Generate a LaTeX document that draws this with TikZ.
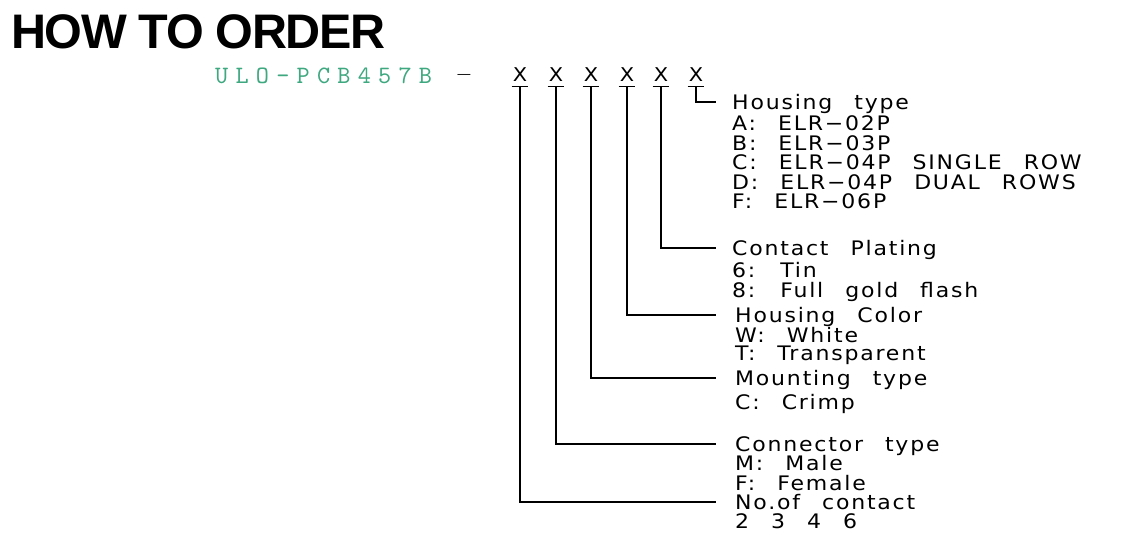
\documentclass[tikz,border=0pt]{standalone}
\usepackage{fontspec}
\usepackage{tikz}
\usetikzlibrary{positioning, calc}
\newfontfamily\titlefont[LetterSpace=-3]{Liberation Sans}
\newfontfamily\codefont[LetterSpace=29]{lmmono10-regular.otf}
\newfontfamily\cadfont[FakeStretch=1.1, LetterSpace=9, WordSpace=2.5]{DejaVu Sans}
\newfontfamily\markfont[FakeStretch=1.1]{DejaVu Sans}
\definecolor{codegreen}{RGB}{62, 168, 128}
\definecolor{inkblack}{RGB}{0, 0, 0}
\tikzset{
  leadline/.style={draw=inkblack, line width=1.3pt},
  xmark/.style={font=\markfont\fontsize{19pt}{19pt}\selectfont, inner xsep=1pt, inner ysep=4pt, text height=13.9pt, text depth=0pt},
  fieldhead/.style={anchor=west, font=\cadfont\fontsize{20pt}{19.6pt}\selectfont, inner xsep=16pt, inner ysep=0pt, text height=14.6pt, text depth=0pt},
  fieldopts/.style={anchor=north west, align=left, font=\cadfont\fontsize{20pt}{19.6pt}\selectfont, inner xsep=16pt, inner ysep=0pt}
}

\begin{document}
\begin{tikzpicture}[x=1pt, y=-1pt]
    \useasboundingbox[fill=white] (0,0) rectangle (1135,536);
    % Title
    \node[anchor=base west, inner sep=0pt, font=\titlefont\bfseries\fontsize{48.5pt}{48.5pt}\selectfont] (title) at (11,48) {HOW TO ORDER};

    % Part number
    \node[anchor=base west, inner sep=0pt, text=codegreen, font=\codefont\fontsize{25pt}{25pt}\selectfont] (code) at (215,83) {ULO–PCB457B};
    \node[inner sep=0pt, font=\markfont\fontsize{13pt}{13pt}\selectfont] (dash) at (464,76) {—};

    % Option marks
    \node[xmark] (x1) at (520,75) {X};
    \node[xmark] (x2) at (556,75) {X};
    \node[xmark] (x3) at (591,75) {X};
    \node[xmark] (x4) at (627,75) {X};
    \node[xmark] (x5) at (661,75) {X};
    \node[xmark] (x6) at (696,75) {X};
    \foreach \m in {x1,x2,x3,x4,x5,x6}
        \draw[leadline] (\m.south west) -- (\m.south east);

    % Field headings
    \node[fieldhead] (h6) at (716,102) {Housing type};
    \node[fieldhead] (h5) at (716,248) {Contact Plating};
    \node[fieldhead, inner xsep=19pt] (h4) at (716,315) {Housing Color};
    \node[fieldhead, inner xsep=19pt] (h3) at (716,378) {Mounting type};
    \node[fieldhead, inner xsep=19pt] (h2) at (716,444) {Connector type};
    \node[fieldhead, inner xsep=19pt] (h1) at (716,502) {No.of contact};

    % Field options
    \node[fieldopts] (o6) at ([yshift=-6pt]h6.south west) {A: ELR−02P\\B: ELR−03P\\C: ELR−04P SINGLE ROW\\D: ELR−04P DUAL ROWS\\F: ELR−06P};
    \node[fieldopts] (o5) at ([yshift=-7pt]h5.south west) {6: Tin\\8: Full gold flash};
    \node[fieldopts, inner xsep=19pt] (o4) at ([yshift=-5pt]h4.south west) {W: White\\[-1.8pt]T: Transparent};
    \node[fieldopts, inner xsep=19pt] (o3) at ([yshift=-9pt]h3.south west) {C: Crimp};
    \node[fieldopts, inner xsep=19pt] (o2) at ([yshift=-4pt]h2.south west) {M: Male\\F: Female};
    \node[fieldopts, inner xsep=19pt] (o1) at ([yshift=-4pt]h1.south west) {2 3 4 6};

    % Leaders
    \draw[leadline] (x6.south) |- (h6.west);
    \draw[leadline] (x5.south) |- (h5.west);
    \draw[leadline] (x4.south) |- (h4.west);
    \draw[leadline] (x3.south) |- (h3.west);
    \draw[leadline] (x2.south) |- (h2.west);
    \draw[leadline] (x1.south) |- (h1.west);
\end{tikzpicture}
\end{document}
